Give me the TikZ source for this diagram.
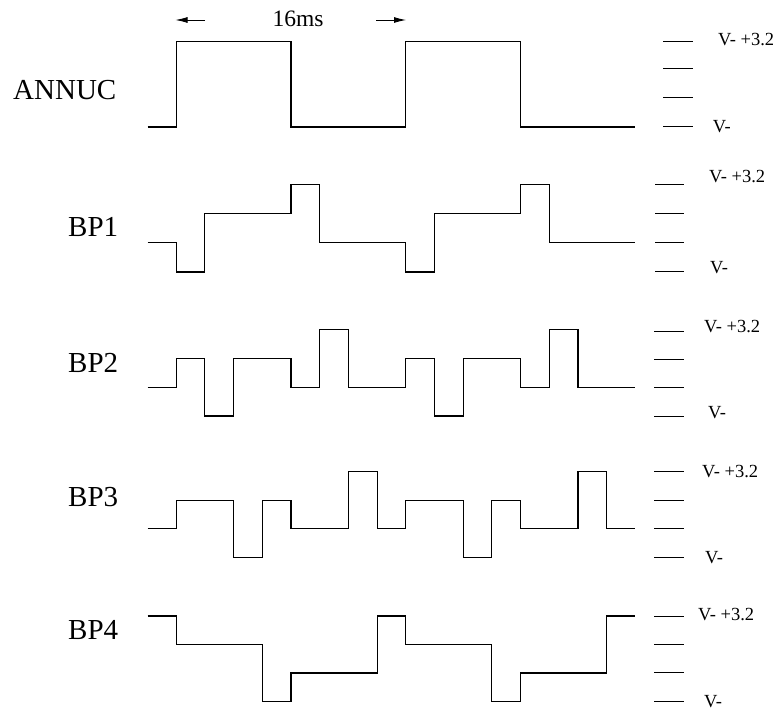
\documentclass[tikz,border=0pt]{standalone}
\usepackage{fontspec}
\setmainfont{Liberation Serif}
\usetikzlibrary{arrows.meta}
\begin{document}
\begin{tikzpicture}[x=1pt,y=1pt,
  wave/.style={line width=1.1pt, line join=miter},
  tick/.style={line width=1pt},
  siglabel/.style={anchor=west, inner sep=0pt, font=\fontsize{29}{29}\selectfont},
  lvl/.style={anchor=west, inner sep=0pt, font=\fontsize{18.5}{18.5}\selectfont},
  dim/.style={line width=0.9pt, -{Latex[length=12pt,width=6pt]}}]
\useasboundingbox (0,0) rectangle (776,-711);
% labels
\node[siglabel] (lANNUC) at (13,-90) {ANNUC};
\node[siglabel] (lBP1) at (68,-227) {BP1};
\node[siglabel] (lBP2) at (68,-363) {BP2};
\node[siglabel] (lBP3) at (68,-497) {BP3};
\node[siglabel] (lBP4) at (68,-630) {BP4};
% 16ms
\node[inner sep=0pt, font=\fontsize{23.5}{23.5}\selectfont] (tms) at (298,-19) {16ms};
\coordinate (la) at (205,-20); \coordinate (lb) at (175.5,-20);
\coordinate (ra) at (376,-20); \coordinate (rb) at (406,-20);
\draw[dim] (la) -- (lb);
\draw[dim] (ra) -- (rb);
% waveforms
\begin{scope}[shift={(147.5,-127)}, x=28.7pt, y=28.4pt]
  \draw[wave] (0,0) -- (1,0) |- (5,3) |- (9,0) |- (13,3) |- (17,0);
\end{scope}
\begin{scope}[shift={(147.5,-272)}, x=28.7pt, y=29.2pt]
  \draw[wave] (0,1) -- (1,1) |- (2,0) |- (5,2) |- (6,3) |- (9,1) |- (10,0) |- (13,2) |- (14,3) |- (17,1);
\end{scope}
\begin{scope}[shift={(147.5,-416)}, x=28.7pt, y=28.8pt]
  \draw[wave] (0,1) -- (1,1) |- (2,2) |- (3,0) |- (5,2) |- (6,1) |- (7,3) |- (9,1) |- (10,2) |- (11,0) |- (13,2) |- (14,1) |- (15,3) |- (17,1);
\end{scope}
\begin{scope}[shift={(147.5,-557.5)}, x=28.7pt, y=28.6pt]
  \draw[wave] (0,1) -- (1,1) |- (3,2) |- (4,0) |- (5,2) |- (7,1) |- (8,3) |- (9,1) |- (11,2) |- (12,0) |- (13,2) |- (15,1) |- (16,3) |- (17,1);
\end{scope}
\begin{scope}[shift={(147.5,-701.5)}, x=28.7pt, y=28.5pt]
  \draw[wave] (0,3) -- (1,3) |- (4,2) |- (5,0) |- (8,1) |- (9,3) |- (12,2) |- (13,0) |- (16,1) |- (17,3);
\end{scope}
% level ticks
\foreach \y in {42,69,98,127} \draw[tick] (663,-\y) -- (693,-\y);
\foreach \y in {185,214,243,272} \draw[tick] (655,-\y) -- (684,-\y);
\foreach \y in {331.7,359,387.3,416} \draw[tick] (654,-\y) -- (684,-\y);
\foreach \y in {471.7,500,528.5,557} \draw[tick] (654,-\y) -- (684,-\y);
\foreach \y in {616.7,644,672.7,701.7} \draw[tick] (654,-\y) -- (684,-\y);
% level labels
\node[lvl] (hA) at (718,-39.5) {V- +3.2};
\node[lvl] (vA) at (712.7,-126.7) {V-};
\node[lvl] (h1) at (709,-176.5) {V- +3.2};
\node[lvl] (v1) at (710,-268) {V-};
\node[lvl] (h2) at (704,-326.7) {V- +3.2};
\node[lvl] (v2) at (708,-413) {V-};
\node[lvl] (h3) at (702,-472) {V- +3.2};
\node[lvl] (v3) at (705,-558) {V-};
\node[lvl] (h4) at (698,-615) {V- +3.2};
\node[lvl] (v4) at (704,-701.7) {V-};
\end{tikzpicture}
\end{document}
